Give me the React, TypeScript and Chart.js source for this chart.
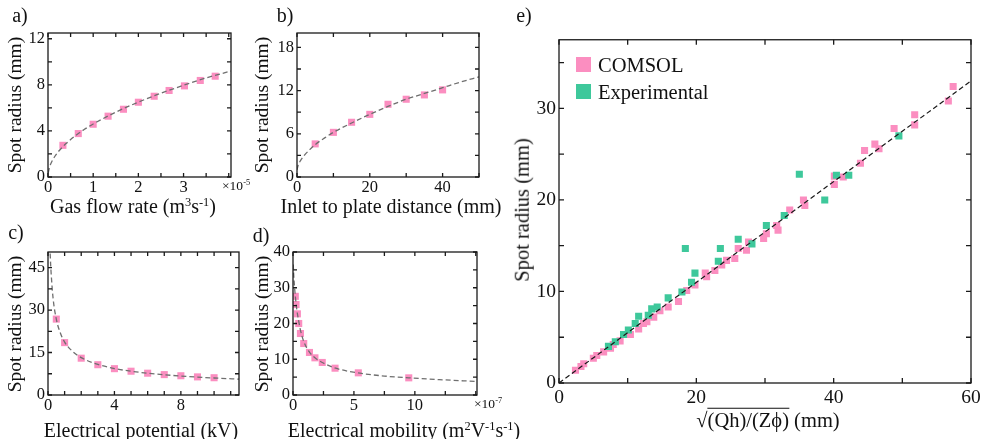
import React, { useEffect, useRef } from "react";
import { Chart, registerables } from "chart.js";
Chart.register(...registerables);

const SERIF = "'Liberation Serif', 'DejaVu Serif', 'Times New Roman', serif";
const PINK = "#fb8ec0";
const GREEN = "#3ec89b";
const FIT_GRAY = "#6f6f6f";

// ---- a) gas flow rate (x in 1e-5 m^3/s) ----
const gasFlowRate = [0.33, 0.67, 1.0, 1.33, 1.67, 2.0, 2.35, 2.68, 3.02, 3.37, 3.7];
const gasFlowSpot = [2.75, 3.77, 4.58, 5.28, 5.88, 6.49, 7.01, 7.51, 7.91, 8.38, 8.75];
const gasFitX = [0.005, 0.03, 0.08, 0.15, 0.25, 0.4, 0.6, 0.8, 1.0, 1.5, 2.0, 2.5, 3.0, 3.5, 4.05];
const gasFitY = [0.35, 0.8, 1.3, 1.78, 2.3, 2.9, 3.56, 4.12, 4.6, 5.63, 6.5, 7.27, 7.96, 8.6, 9.2];

// ---- b) inlet to plate distance (mm) ----
const inletDistance = [5, 10, 15, 20, 25, 30, 35, 40];
const inletSpot = [4.6, 6.2, 7.6, 8.7, 10.1, 10.8, 11.4, 12.1];
const inletFitX = [0, 0.3, 1, 2, 3.5, 5, 7.5, 10, 15, 20, 25, 30, 35, 40, 45, 50];
const inletFitY = [1.0, 1.6, 2.3, 3.0, 3.8, 4.5, 5.4, 6.2, 7.5, 8.7, 9.8, 10.8, 11.6, 12.4, 13.2, 13.9];

// ---- c) electrical potential (kV) ----
const potential = [0.5, 1, 2, 3, 4, 5, 6, 7, 8, 9, 10];
const potentialSpot = [26.8, 18.5, 13.0, 10.7, 9.3, 8.4, 7.7, 7.2, 6.8, 6.4, 6.1];
const potentialFitX = [0.13, 0.16, 0.2, 0.3, 0.5, 0.75, 1, 1.5, 2, 3, 4, 5, 6, 7, 8, 9, 10, 11.5];
const potentialFitY = [50, 46, 42, 34.5, 26.8, 21.8, 18.7, 15.3, 13.2, 10.8, 9.35, 8.4, 7.7, 7.15, 6.7, 6.3, 6.0, 5.6];

// ---- d) electrical mobility (x in 1e-7) ----
const mobility = [0.19, 0.25, 0.36, 0.47, 0.61, 0.88, 1.35, 1.8, 2.4, 3.45, 5.36, 9.5];
const mobilitySpot = [27.6, 25.3, 22.7, 20.0, 17.2, 14.4, 11.9, 10.4, 9.1, 7.5, 6.2, 4.8];
const mobilityFitX = [0.02, 0.06, 0.12, 0.2, 0.3, 0.45, 0.6, 0.9, 1.35, 1.8, 2.4, 3.5, 5.5, 7.5, 9.5, 12, 15];
const mobilityFitY = [36.5, 33.5, 30.5, 27.3, 24.2, 21, 18.3, 14.8, 12.0, 10.4, 9.1, 7.5, 6.1, 5.3, 4.8, 4.3, 3.8];

// ---- e) collapse plot ----
const comsolX = [2.4, 3.2, 3.6, 5.0, 5.5, 6.5, 7.5, 7.9, 8.9, 10.4, 11.6, 12.3, 12.8, 13.8, 14.7, 15.9, 17.4, 18.6, 19.8, 21.3, 21.5, 22.7, 23.7, 24.4, 25.6, 26.1, 27.3, 27.6, 29.8, 30.2, 31.7, 31.9, 33.6, 35.6, 35.8, 40.1, 40.1, 41.4, 43.9, 44.5, 46.0, 46.6, 48.8, 51.8, 51.8, 56.7, 57.4];
const comsolY = [1.4, 1.8, 2.1, 2.7, 3.0, 3.4, 3.8, 4.2, 4.6, 5.3, 5.9, 6.5, 6.7, 7.2, 7.9, 8.3, 8.9, 10.1, 10.7, 12.0, 11.6, 12.3, 12.9, 13.4, 13.6, 14.7, 14.5, 15.4, 15.8, 16.3, 17.2, 16.7, 18.9, 20.0, 19.4, 21.7, 22.6, 22.5, 24.0, 25.4, 26.1, 25.6, 27.8, 28.2, 29.3, 30.8, 32.4];
const expX = [7.2, 8.2, 9.4, 10.1, 11.1, 11.6, 13.0, 13.5, 14.3, 15.9, 17.9, 19.3, 19.8, 18.4, 23.2, 23.5, 26.1, 28.1, 30.2, 32.8, 35.0, 38.7, 40.4, 42.2, 49.5];
const expY = [4.0, 4.5, 5.3, 5.8, 6.5, 7.3, 7.4, 8.1, 8.3, 9.3, 9.95, 11.0, 12.0, 14.7, 13.3, 14.7, 15.7, 15.2, 17.2, 18.3, 22.8, 20.0, 22.7, 22.7, 27.0];
const trendX = [0, 60];
const trendY = [0, 33];

const pts = (xs: number[], ys: number[]) => xs.map((x, i) => ({ x, y: ys[i] }));

const framePlugin = {
  id: "frame",
  afterDatasetsDraw(chart: any, _args: any, opts: any) {
    const { ctx, chartArea, scales } = chart;
    const { left, top, right, bottom } = chartArea;
    const L = opts.tickLen ?? 4;
    ctx.save();
    ctx.strokeStyle = "#1a1a1a";
    ctx.lineWidth = opts.lineWidth ?? 1.3;
    ctx.beginPath();
    scales.x.ticks.forEach((t: any) => {
      const px = scales.x.getPixelForValue(t.value);
      ctx.moveTo(px, bottom);
      ctx.lineTo(px, bottom - L);
      ctx.moveTo(px, top);
      ctx.lineTo(px, top + L);
    });
    scales.y.ticks.forEach((t: any) => {
      const py = scales.y.getPixelForValue(t.value);
      ctx.moveTo(left, py);
      ctx.lineTo(left + L, py);
      ctx.moveTo(right, py);
      ctx.lineTo(right - L, py);
    });
    ctx.stroke();
    ctx.strokeRect(left, top, right - left, bottom - top);
    ctx.restore();
  },
};

type Spec = {
  box: [number, number, number, number];
  x: [number, number, number, number, number]; // min, max, minor step, label step, last label
  y: [number, number, number, number, number];
  datasets: any[];
  tickSize: number;
  tickLen: number;
  xPad: number;
};

const PAD_L = 50, PAD_T = 12, PAD_R = 22, PAD_B = 30;

const labelCb = (step: number, last: number) => (v: any) => {
  const r = v / step;
  return Math.abs(r - Math.round(r)) < 1e-6 && v <= last + 1e-9 ? String(Math.round(v * 1000) / 1000) : "";
};

function Panel({ spec }: { spec: Spec }) {
  const ref = useRef<HTMLCanvasElement>(null);
  const [l, t, r, b] = spec.box;
  const w = r - l + PAD_L + PAD_R;
  const h = b - t + PAD_T + PAD_B;
  useEffect(() => {
    const font = { family: SERIF, size: spec.tickSize, lineHeight: 1 };
    const chart = new Chart(ref.current as HTMLCanvasElement, {
      type: "scatter",
      data: { datasets: spec.datasets },
      plugins: [framePlugin],
      options: {
        animation: false,
        responsive: false,
        events: [],
        layout: { autoPadding: false, padding: { left: 0, top: PAD_T, right: PAD_R, bottom: 0 } },
        plugins: {
          legend: { display: false },
          tooltip: { enabled: false },
          frame: { tickLen: spec.tickLen, lineWidth: 1.3 },
        } as any,
        scales: {
          x: {
            type: "linear",
            min: spec.x[0],
            max: spec.x[1],
            grid: { display: false, drawTicks: false },
            border: { display: false },
            afterFit: (s: any) => { s.height = PAD_B; },
            ticks: {
              stepSize: spec.x[2],
              includeBounds: false,
              autoSkip: false,
              maxRotation: 0,
              minRotation: 0,
              padding: spec.xPad,
              color: "#111",
              font,
              callback: labelCb(spec.x[3], spec.x[4]),
            },
          },
          y: {
            type: "linear",
            min: spec.y[0],
            max: spec.y[1],
            grid: { display: false, drawTicks: false },
            border: { display: false },
            afterFit: (s: any) => { s.width = PAD_L; },
            ticks: {
              stepSize: spec.y[2],
              includeBounds: false,
              autoSkip: false,
              padding: 3,
              color: "#111",
              font,
              callback: labelCb(spec.y[3], spec.y[4]),
            },
          },
        },
      } as any,
    });
    return () => chart.destroy();
  }, []);
  return (
    <canvas
      ref={ref}
      width={w}
      height={h}
      style={{ position: "absolute", left: l - PAD_L, top: t - PAD_T, width: w, height: h }}
    />
  );
}

const fitLine = (xs: number[], ys: number[], color: string) => ({
  data: pts(xs, ys),
  showLine: true,
  borderColor: color,
  borderWidth: 1.3,
  borderDash: [5, 3],
  pointRadius: 0,
  cubicInterpolationMode: "monotone",
  fill: false,
});
const squares = (xs: number[], ys: number[], color: string) => ({
  data: pts(xs, ys),
  showLine: false,
  pointStyle: "rect",
  pointRadius: 5,
  backgroundColor: color,
  borderWidth: 0,
});

const specs: Spec[] = [
  {
    box: [48, 33, 231, 177],
    x: [0, 4.05, 0.5, 1, 3],
    y: [0, 12.5, 2, 4, 12],
    datasets: [fitLine(gasFitX, gasFitY, FIT_GRAY), squares(gasFlowRate, gasFlowSpot, PINK)],
    tickSize: 16.5,
    tickLen: 4,
    xPad: 2,
  },
  {
    box: [297, 33, 479, 177],
    x: [0, 50, 10, 20, 40],
    y: [0, 20, 3, 6, 18],
    datasets: [fitLine(inletFitX, inletFitY, FIT_GRAY), squares(inletDistance, inletSpot, PINK)],
    tickSize: 16.5,
    tickLen: 4,
    xPad: 2,
  },
  {
    box: [48, 252, 239, 395],
    x: [0, 11.5, 1, 4, 8],
    y: [0, 50.5, 7.5, 15, 45],
    datasets: [fitLine(potentialFitX, potentialFitY, FIT_GRAY), squares(potential, potentialSpot, PINK)],
    tickSize: 16.5,
    tickLen: 4,
    xPad: 2,
  },
  {
    box: [293, 252, 477, 395],
    x: [0, 15.1, 2.5, 5, 10],
    y: [0, 40, 5, 10, 40],
    datasets: [fitLine(mobilityFitX, mobilityFitY, FIT_GRAY), squares(mobility, mobilitySpot, PINK)],
    tickSize: 16.5,
    tickLen: 4,
    xPad: 2,
  },
  {
    box: [559, 39, 971, 383],
    x: [0, 60, 10, 20, 60],
    y: [0, 37.5, 5, 10, 30],
    datasets: [
      { ...fitLine(trendX, trendY, "#1a1a1a"), borderWidth: 1.2, cubicInterpolationMode: "default" },
      squares(expX, expY, GREEN),
      squares(comsolX, comsolY, PINK),
    ],
    tickSize: 19.5,
    tickLen: 5,
    xPad: 5,
  },
];

const abs = (extra: React.CSSProperties): React.CSSProperties => ({
  position: "absolute",
  whiteSpace: "nowrap",
  fontFamily: SERIF,
  color: "#111",
  lineHeight: 1,
  ...extra,
});

const sup: React.CSSProperties = { fontSize: "0.62em", verticalAlign: "0.55em" };

function Text({ x, y, size, rot, children }: { x: number; y: number; size: number; rot?: boolean; children: any }) {
  return (
    <div
      style={abs({
        left: x,
        top: y,
        fontSize: size,
        transform: rot ? "translate(-50%, -50%) rotate(-90deg)" : "translate(-50%, -50%)",
      })}
    >
      {children}
    </div>
  );
}

export default function App() {
  return (
    <div style={{ position: "absolute", left: 0, top: 0, width: 991, height: 439, background: "#fff", overflow: "hidden" }}>
      {specs.map((s, i) => (
        <Panel key={i} spec={s} />
      ))}
      {/* panel letters */}
      <Text x={20} y={15} size={20}>a)</Text>
      <Text x={285} y={15} size={20}>b)</Text>
      <Text x={16} y={232} size={20}>c)</Text>
      <Text x={261} y={235} size={20}>d)</Text>
      <Text x={524} y={15} size={20}>e)</Text>

      {/* axis titles a-d */}
      <Text x={15} y={105} size={19.5} rot>Spot radius (mm)</Text>
      <Text x={262} y={105} size={19.5} rot>Spot radius (mm)</Text>
      <Text x={15} y={324} size={19.5} rot>Spot radius (mm)</Text>
      <Text x={262} y={324} size={19.5} rot>Spot radius (mm)</Text>
      <Text x={133} y={206} size={20}>
        Gas flow rate (m<span style={sup}>3</span>s<span style={sup}>-1</span>)
      </Text>
      <Text x={391} y={206} size={20}>Inlet to plate distance (mm)</Text>
      <Text x={141} y={430} size={20}>Electrical potential (kV)</Text>
      <Text x={404} y={430} size={20}>
        Electrical mobility (m<span style={sup}>2</span>V<span style={sup}>-1</span>s<span style={sup}>-1</span>)
      </Text>
      <div style={abs({ left: 222, top: 179, fontSize: 13.5 })}>
        ×10<span style={sup}>-5</span>
      </div>
      <div style={abs({ left: 474, top: 397, fontSize: 13.5 })}>
        ×10<span style={sup}>-7</span>
      </div>

      {/* panel e titles */}
      <Text x={522} y={210} size={20.5} rot>Spot radius (mm)</Text>
      <Text x={768} y={420} size={20.5}>
        √<span style={{ borderTop: "1.3px solid #111" }}>(Qh)/(Zϕ)</span> (mm)
      </Text>

      {/* legend e */}
      <div style={abs({ left: 576, top: 57, width: 15, height: 15, background: PINK })} />
      <div style={abs({ left: 598, top: 65, fontSize: 20.5, transform: "translateY(-50%)" })}>COMSOL</div>
      <div style={abs({ left: 576, top: 84, width: 15, height: 15, background: GREEN })} />
      <div style={abs({ left: 598, top: 92, fontSize: 20.5, transform: "translateY(-50%)" })}>Experimental</div>
    </div>
  );
}
